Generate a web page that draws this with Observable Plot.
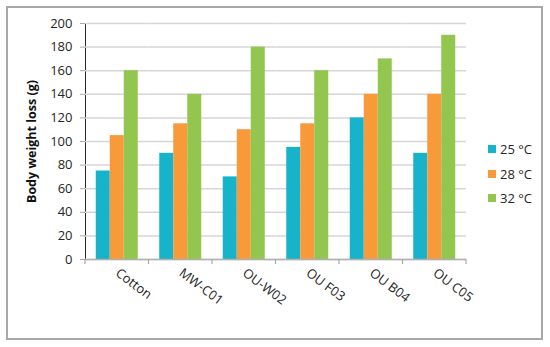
<!DOCTYPE html>
<html>
<head>
<meta charset="utf-8">
<script src="https://cdn.jsdelivr.net/npm/d3@7"></script>
<script src="https://cdn.jsdelivr.net/npm/@observablehq/plot@0.6"></script>
<style>
  html, body { margin: 0; padding: 0; background: #fff; }
  #wrap { position: relative; width: 550px; height: 347px; overflow: hidden; font-family: "Open Sans", sans-serif; }
  #border { position: absolute; left: 6px; top: 6px; width: 537px; height: 334px; box-sizing: border-box; border: 2px solid #a8a8a8; pointer-events: none; }
  #legend { position: absolute; left: 488px; top: 137px; font-size: 13px; color: #262626; }
  #legend .item { display: flex; align-items: center; height: 24.5px; }
  #legend .sw { width: 8px; height: 8px; margin-right: 4px; }
</style>
</head>
<body>
<div id="wrap"><div id="chart"></div><div id="legend"></div><div id="border"></div></div>
<script>
const categories = ["Cotton", "MW-C01", "OU-W02", "OU F03", "OU B04", "OU C05"];
const series = ["25 °C", "28 °C", "32 °C"];
const v25 = [75, 90, 70, 95, 120, 90];
const v28 = [105, 115, 110, 115, 140, 140];
const v32 = [160, 140, 180, 160, 170, 190];
const colors = ["#17b3ca", "#f99a3a", "#93c64f"];
const yTicks = [0, 20, 40, 60, 80, 100, 120, 140, 160, 180, 200];
const yLabel = "Body weight loss (g)";

const values = [v25, v28, v32];
const rows = [];
categories.forEach((c, i) => series.forEach((s, j) => rows.push({cat: c, s, v: values[j][i]})));

const plot = Plot.plot({
  width: 550, height: 347,
  marginLeft: 85, marginRight: 84, marginTop: 23, marginBottom: 88,
  style: {fontFamily: "Open Sans", fontSize: "13px", color: "#262626", background: "transparent", overflow: "visible"},
  facet: {data: rows, x: "cat"},
  fx: {domain: categories, padding: 0, round: false, label: null, tickRotate: 37, tickSize: 0, tickPadding: 12},
  x: {domain: series, paddingInner: 0, paddingOuter: 0.768, round: false, axis: null},
  y: {domain: [0, 200], ticks: yTicks, label: yLabel, labelArrow: false, labelAnchor: "center", labelOffset: 58, tickSize: 5, tickPadding: 8, line: true},
  color: {domain: series, range: colors},
  marks: [
    Plot.ruleY(yTicks, {stroke: "#d6d6d6", strokeWidth: 1.5}),
    Plot.barY(rows, {x: "s", y: "v", fill: "s"}),
    Plot.ruleY([0], {stroke: "#b0b0b0", strokeWidth: 1.5})
  ]
});
document.getElementById("chart").appendChild(plot);

const svg = d3.select(plot);
svg.selectAll("text").filter(function() { return this.textContent.includes(yLabel); })
  .text(yLabel)
  .style("font-weight", "bold").style("font-size", "12.5px").attr("fill", "#111");
svg.selectAll("g[aria-label^='y-axis'] line, g[aria-label^='y-axis'] path").attr("stroke", "#a8a8a8").attr("stroke-opacity", 1);

// category boundary ticks, from the fx scale
const fx = plot.scale("fx");
const band = d3.scaleBand().domain(fx.domain).range(fx.range).padding(0);
const yPix = plot.scale("y").apply(0);
const edges = categories.map(c => band(c)).concat([band(categories[categories.length - 1]) + band.bandwidth()]);
svg.append("g").selectAll("line").data(edges).join("line")
  .attr("x1", d => d).attr("x2", d => d).attr("y1", yPix).attr("y2", yPix + 5)
  .attr("stroke", "#a8a8a8").attr("stroke-width", 1.2);

const legend = d3.select("#legend");
series.forEach((s, i) => {
  const it = legend.append("div").attr("class", "item");
  it.append("div").attr("class", "sw").style("background", colors[i]);
  it.append("span").text(s);
});
</script>
</body>
</html>
